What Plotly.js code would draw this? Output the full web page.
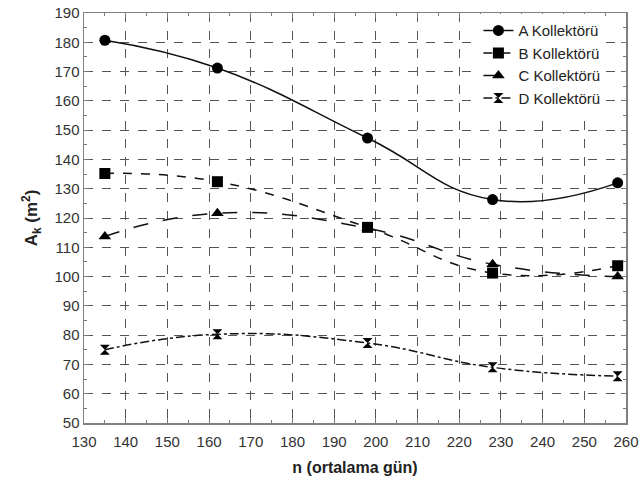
<!DOCTYPE html>
<html><head><meta charset="utf-8">
<script src="https://cdn.plot.ly/plotly-3.0.1.min.js"></script>
<style>body{margin:0;background:#fff}#c{width:640px;height:482px}</style>
</head><body><div id="c"></div>
<script>
var days = [135, 162, 198, 228, 258];
var seriesA = [180.7, 171.2, 147.3, 126.3, 132.0];
var seriesB = [135.2, 132.4, 116.8, 101.2, 103.7];
var seriesC = [113.7, 121.6, 116.5, 104.2, 100.0];
var seriesD = [75.0, 80.3, 77.3, 69.0, 66.0];
var names = ['A Kollektörü', 'B Kollektörü', 'C Kollektörü', 'D Kollektörü'];
var values = [seriesA, seriesB, seriesC, seriesD];
var symbols = ['circle', 'square', 'triangle-up', 'hourglass'];
var dashes = ['solid', 'dash', 'longdash', 'dashdot'];
var sizes = [11, 11, 11, 10];

var traces = values.map(function(v, i){
  return {x: days, y: v, name: names[i], type: 'scatter', mode: 'lines+markers',
    line: {shape: 'spline', smoothing: 1.3, color: '#111', width: 1.5, dash: dashes[i]},
    marker: {symbol: symbols[i], size: sizes[i], color: '#000'}};
});

var axisCommon = {
  showline: true, linecolor: '#808080', linewidth: 1.5, mirror: 'ticks',
  ticks: 'inside', ticklen: 5, tickcolor: '#777', tickwidth: 1,
  showgrid: true, gridcolor: '#555', griddash: 'dash', gridwidth: 1,
  zeroline: false, tickfont: {family: 'Liberation Sans, Arial', size: 15, color: '#333'},
  minor: {ticks: 'inside', ticklen: 3, tickcolor: '#777', showgrid: false}
};
var layout = {
  width: 640, height: 482,
  margin: {l: 84, r: 14, t: 13, b: 59},
  paper_bgcolor: '#fff', plot_bgcolor: '#fff',
  showlegend: true,
  legend: {x: 0.962, y: 0.997, xanchor: 'right', yanchor: 'top', bgcolor: '#fff', borderwidth: 0,
    font: {family: 'Liberation Sans, Arial', size: 15, color: '#222'}, itemwidth: 30, tracegroupgap: 0},
  xaxis: Object.assign({}, axisCommon, {range: [130, 260], dtick: 10, tick0: 130, ticklabelstandoff: 4,
    minor: Object.assign({}, axisCommon.minor, {dtick: 5}),
    title: {text: '<b>n (ortalama gün)</b>', font: {family: 'Liberation Sans, Arial', size: 16, color: '#222'}, standoff: 13}}),
  yaxis: Object.assign({}, axisCommon, {range: [50, 190], dtick: 10, tick0: 50,
    minor: Object.assign({}, axisCommon.minor, {dtick: 5}),
    title: {text: '<b>A<sub>k</sub> (m<sup>2</sup>)</b>', font: {family: 'Liberation Sans, Arial', size: 17, color: '#222'}, standoff: 12}})
};
Plotly.newPlot('c', traces, layout, {displayModeBar: false, staticPlot: true});
</script></body></html>
